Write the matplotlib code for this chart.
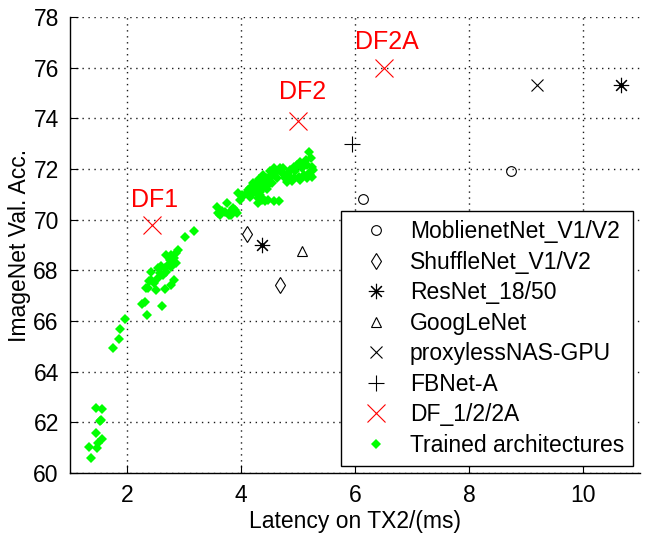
import matplotlib
matplotlib.use("Agg")
import matplotlib.pyplot as plt

plt.rcParams['font.family'] = ['Liberation Sans', 'DejaVu Sans']

# ---- data ----
mobilenet_x = [6.14, 8.73]
mobilenet_y = [70.81, 71.9]
shufflenet_x = [4.10, 4.69]
shufflenet_y = [69.43, 67.4]
resnet_x = [4.37, 10.66]
resnet_y = [69.0, 75.3]
googlenet_x = [5.07]
googlenet_y = [68.76]
proxyless_x = [9.19]
proxyless_y = [75.32]
fbnet_x = [5.94]
fbnet_y = [73.0]
df_x = [2.43, 5.0, 6.5]
df_y = [69.8, 73.9, 76.0]
df_labels = ["DF1", "DF2", "DF2A"]

trained_x = [
    1.45, 1.56, 1.55, 1.53, 1.45, 1.56, 1.49, 1.34, 1.47, 1.37,
    1.75, 1.86, 1.88, 1.97, 2.35, 2.27, 2.32, 2.62,
    2.34, 2.38, 2.89, 2.86, 2.78, 2.69, 2.83, 2.75, 2.86, 2.72, 2.78, 2.66,
    2.54, 2.42, 2.57, 2.63, 2.54, 2.42, 2.48, 2.83, 2.78, 2.36, 2.51, 2.66,
    2.69, 2.60, 3.02, 3.17,
    3.57, 3.60, 3.75, 3.72, 3.80, 3.78, 3.89, 3.92, 3.94, 3.98, 4.13, 4.16,
    4.30, 4.36, 3.63, 3.67, 3.86, 3.83,
    5.20, 5.23, 5.13, 5.04, 4.98, 4.92, 4.86, 4.83, 4.95, 5.07, 5.16, 5.24,
    5.27, 5.19, 5.10, 5.01, 4.92, 5.04, 5.16, 5.24, 4.86, 4.89, 4.80, 4.77,
    4.69, 4.72, 4.63, 4.57, 4.51, 4.45, 4.39, 4.33, 4.27, 4.22, 4.16, 4.30,
    4.42, 4.54, 4.63, 4.74, 4.13, 4.16, 4.01, 4.33, 4.36, 4.30, 4.48, 4.57,
    4.66, 4.42, 4.33, 4.24, 4.39, 4.51, 4.57, 4.04, 4.21, 4.45, 5.10, 5.21,
    4.28, 4.36, 4.41, 4.47, 4.35, 4.25, 4.31, 4.38,
]
trained_y = [
    62.56, 62.51, 62.09, 62.05, 61.59, 61.33, 61.17, 61.04, 60.99, 60.6,
    64.94, 65.29, 65.68, 66.08, 66.22, 66.67, 66.75, 66.59,
    67.3, 67.58, 68.80, 68.67, 68.60, 68.60, 68.47, 68.41, 68.28, 68.21, 68.14, 68.08,
    68.08, 67.95, 67.88, 67.81, 67.68, 67.62, 67.49, 67.62, 67.42, 67.29, 67.22, 67.25,
    67.95, 68.15, 69.30, 69.55,
    70.49, 70.25, 70.64, 70.32, 70.32, 70.18, 70.38, 70.25, 71.04, 70.78, 71.10, 70.91,
    70.64, 70.84, 70.18, 70.34, 70.47, 70.18,
    72.66, 72.42, 72.36, 72.29, 72.16, 72.09, 71.96, 71.83, 71.90, 72.03, 72.16, 72.09,
    71.96, 71.83, 71.77, 71.70, 71.63, 71.57, 71.63, 71.70, 71.70, 71.53, 71.50, 71.63,
    72.03, 71.83, 71.90, 71.77, 71.70, 71.63, 71.57, 71.50, 71.44, 71.37, 71.24, 71.24,
    71.30, 71.44, 71.63, 72.03, 71.17, 70.97, 70.97, 70.97, 70.78, 70.84, 70.78, 70.74,
    70.74, 70.74, 71.10, 71.10, 71.77, 71.90, 72.03, 70.93, 71.45, 71.20, 72.20, 71.75,
    71.35, 71.40, 71.50, 71.35, 71.20, 71.28, 71.62, 71.68,
]

x_ticks = [2, 4, 6, 8, 10]
y_ticks = [60, 62, 64, 66, 68, 70, 72, 74, 76, 78]

# ---- figure ----
fig = plt.figure(figsize=(6.54, 5.36), dpi=100)
ax = fig.add_axes([0.107, 0.1175, 0.872, 0.851])

FS = 16.5
mk = dict(linestyle='none', color='black', markerfacecolor='none', markeredgewidth=0.8)

ax.plot(mobilenet_x, mobilenet_y, marker='o', markersize=7, label='MoblienetNet_V1/V2', **mk)
ax.plot(shufflenet_x, shufflenet_y, marker='d', markersize=8, label='ShuffleNet_V1/V2', **mk)
ax.plot(resnet_x, resnet_y, marker=(8, 2, 0), markersize=11, label='ResNet_18/50', **mk)
ax.plot(googlenet_x, googlenet_y, marker='^', markersize=7, label='GoogLeNet', **mk)
ax.plot(proxyless_x, proxyless_y, marker='x', markersize=8, label='proxylessNAS-GPU', **mk)
ax.plot(fbnet_x, fbnet_y, marker='+', markersize=11, label='FBNet-A', **mk)
ax.plot(df_x, df_y, linestyle='none', marker='x', markersize=13, color='red',
        markeredgewidth=0.8, label='DF_1/2/2A')
ax.plot(trained_x, trained_y, linestyle='none', marker='D', markersize=4.6,
        color='#00ff00', markeredgewidth=0, label='Trained architectures')

# center dots of asterisks
ax.plot(resnet_x, resnet_y, linestyle='none', marker='o', markersize=2.5, color='black')

label_pos = [(2.49, 70.78), (5.07, 75.04), (6.56, 77.0)]
for lab, (lx, ly) in zip(df_labels, label_pos):
    ax.text(lx, ly, lab, color='red', fontsize=18, ha='center', va='center')

ax.set_xlim(1, 11)
ax.set_ylim(60, 78)
ax.set_xticks(x_ticks)
ax.set_yticks(y_ticks)
ax.tick_params(direction='in', length=5.5, width=0.8, labelsize=FS, pad=8)
ax.spines['top'].set_visible(False)
ax.spines['right'].set_visible(False)
for s in ('left', 'bottom'):
    ax.spines[s].set_linewidth(1.0)
ax.grid(True, color='0.1', linestyle=(0, (1, 3.3)), linewidth=1.0)
ax.set_axisbelow(True)

ax.set_xlabel('Latency on TX2/(ms)', fontsize=FS, labelpad=2)
ax.set_ylabel('ImageNet Val. Acc.', fontsize=FS, labelpad=2)

leg = ax.legend(loc='lower right', fontsize=FS, frameon=True, fancybox=False,
                edgecolor='black', framealpha=1, borderpad=0.4, labelspacing=0.33,
                handlelength=2.2, handletextpad=0.4, borderaxespad=0.3)
leg.get_frame().set_linewidth(1.0)

fig.savefig('out.png', dpi=100)
